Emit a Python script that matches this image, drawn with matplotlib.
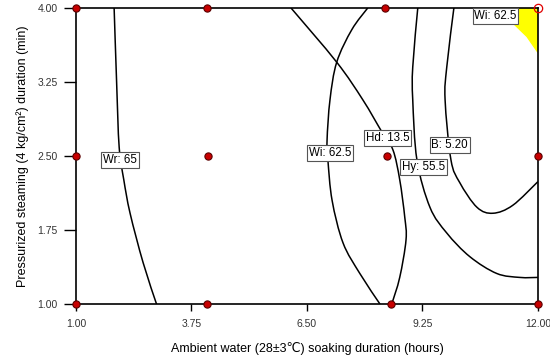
import numpy as np
import matplotlib.pyplot as plt
from matplotlib.path import Path
from matplotlib.patches import PathPatch

plt.rcParams['font.family'] = ['Liberation Sans', 'DejaVu Sans']

# design points (soaking hours, steaming min)
pts_x = [1.00, 4.12, 8.36, 1.00, 4.14, 8.40, 12.00, 1.00, 4.12, 8.50, 12.00]
pts_y = [4.00, 4.00, 4.00, 2.50, 2.50, 2.50, 2.50, 1.00, 1.00, 1.00, 1.00]
open_x = [12.00]
open_y = [4.00]

# contour lines
wr_x = [1.91, 1.97, 2.03, 2.14, 2.29, 2.60, 2.92]
wr_y = [4.00, 3.24, 2.59, 2.26, 1.92, 1.42, 1.00]

wi_x = [7.95, 7.57, 7.21, 7.05, 6.98, 7.00, 7.10, 7.36, 7.76, 8.24]
wi_y = [4.00, 3.78, 3.45, 3.07, 2.66, 2.46, 2.05, 1.62, 1.31, 1.00]

hd_x = [6.12, 7.21, 7.83, 8.29, 8.55, 8.71, 8.83, 8.86, 8.71, 8.52]
hd_y = [4.00, 3.45, 3.07, 2.74, 2.56, 2.26, 1.88, 1.65, 1.27, 1.00]

hy_x = [9.14, 9.02, 9.02, 9.12, 9.43, 9.83, 10.38, 11.02, 11.57, 12.00]
hy_y = [4.00, 3.40, 3.07, 2.46, 1.98, 1.72, 1.48, 1.31, 1.27, 1.27]

b_x = [10.00, 9.83, 9.79, 9.93, 10.14, 10.55, 10.93, 11.40, 12.00]
b_y = [4.00, 3.40, 3.07, 2.46, 2.23, 1.98, 1.92, 2.00, 2.24]

# yellow overlay region (top right corner)
yel_x = [11.02, 11.40, 11.74, 12.00, 12.00]
yel_y = [4.00, 3.85, 3.71, 3.55, 4.00]

labels = [("Wr: 65", 2.05, 2.46), ("Wi: 62.5", 7.05, 2.53), ("Hd: 13.5", 8.42, 2.68),
          ("Hy: 55.5", 9.27, 2.39), ("B: 5.20", 9.90, 2.61), ("Wi: 62.5", 10.99, 3.92)]

xticks = [1.00, 3.75, 6.50, 9.25, 12.00]
yticks = [1.00, 1.75, 2.50, 3.25, 4.00]


def smooth_path(xs, ys, ax):
   # catmull-rom through the read points, drawn as bezier segments in display space
   p = ax.transData.transform(np.column_stack([xs, ys]))
   verts = [p[0]]
   codes = [Path.MOVETO]
   n = len(p)
   for i in range(n - 1):
      p0 = p[i - 1] if i > 0 else p[i]
      p3 = p[i + 2] if i + 2 < n else p[i + 1]
      c1 = p[i] + (p[i + 1] - p0) / 6.0
      c2 = p[i + 1] - (p3 - p[i]) / 6.0
      verts += [c1, c2, p[i + 1]]
      codes += [Path.CURVE4] * 3
   verts = ax.transData.inverted().transform(np.array(verts))
   return Path(verts, codes)


fig = plt.figure(figsize=(5.5, 3.59), dpi=100)
ax = fig.add_axes([0.138, 0.153, 0.840, 0.825])
ax.set_xlim(1, 12)
ax.set_ylim(1, 4)

ax.fill(yel_x, yel_y, color='#ffff00', zorder=1)
for cx, cy in [(wr_x, wr_y), (wi_x, wi_y), (hd_x, hd_y), (hy_x, hy_y), (b_x, b_y)]:
    ax.add_patch(PathPatch(smooth_path(cx, cy, ax), fc='none', ec='black', lw=1.1, zorder=2))

for txt, lx, ly in labels:
    ax.text(lx, ly, txt, fontsize=8.3, ha='center', va='center', zorder=4,
            bbox=dict(boxstyle='square,pad=0.15', fc='white', ec='#555555', lw=0.8))

ax.plot(pts_x, pts_y, 'o', ms=5.2, mfc='#c80000', mec='#5a0000', mew=0.8,
        clip_on=False, zorder=5)
ax.plot(open_x, open_y, 'o', ms=6, mfc='none', mec='#e00000', mew=0.9,
        clip_on=False, zorder=5)

ax.set_xticks(xticks)
ax.set_yticks(yticks)
ax.set_xticklabels(['%.2f' % v for v in xticks])
ax.set_yticklabels(['%.2f' % v for v in yticks])
ax.tick_params(axis='x', length=5, width=1, labelsize=7.5, pad=6)
ax.tick_params(axis='y', length=9, width=1, labelsize=7.5, pad=4)
ax.tick_params(colors='black', which='both', labelcolor='#333333')
for s in ax.spines.values():
    s.set_linewidth(1.2)

ax.set_xlabel("Ambient water (28±3℃) soaking duration (hours)", fontsize=9, labelpad=9)
ax.set_ylabel("Pressurized steaming (4 kg/cm²) duration (min)", fontsize=9, labelpad=6)

fig.savefig('out.png', dpi=100)
